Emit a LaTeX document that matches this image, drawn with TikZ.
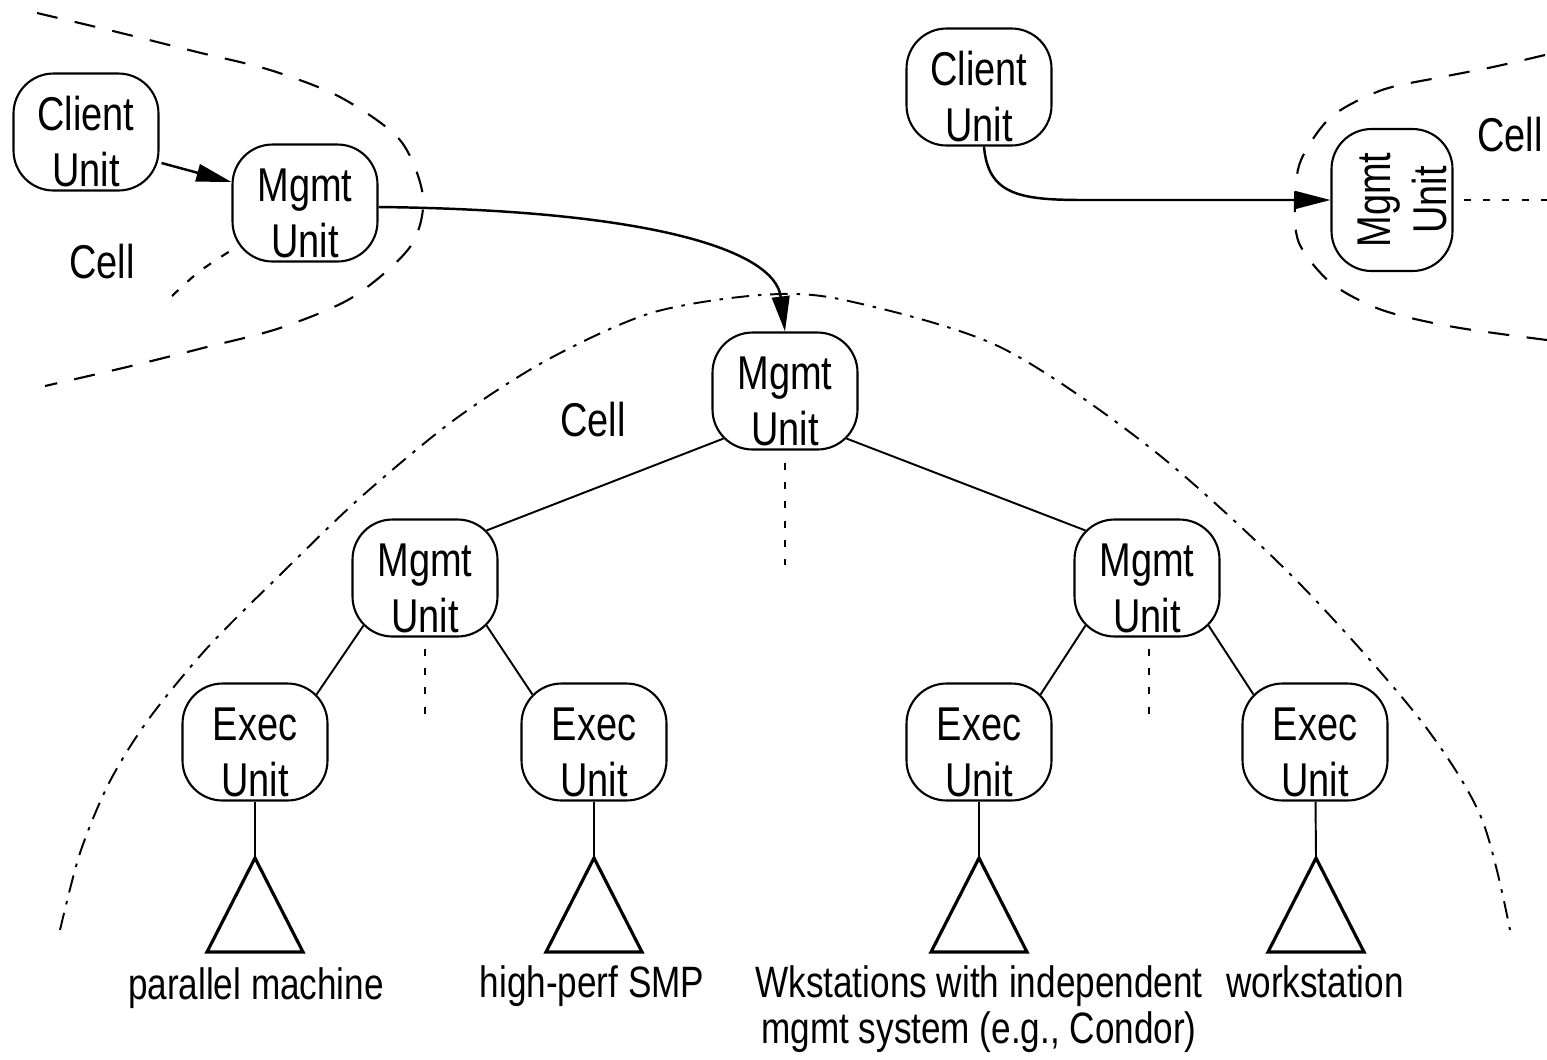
\documentclass[tikz,border=0pt]{standalone}
\usepackage{fontspec}
\setmainfont{Liberation Sans}[FakeStretch=0.8]
\usetikzlibrary{arrows.meta,calc}
\newcommand{\myupstrut}{\rule{0pt}{30pt}}
\begin{document}
\begin{tikzpicture}[x=0.02cm,y=-0.02cm,
  unit/.style={draw,line width=1.2pt,rounded corners=0.8cm,minimum width=2.9cm,minimum height=2.34cm,
    align=center,inner sep=0pt,font=\fontsize{27}{32}\selectfont},
  lbl/.style={font=\fontsize{25}{27}\selectfont,inner sep=0pt,anchor=base},
  celltxt/.style={font=\fontsize{27}{33}\selectfont,inner sep=0pt},
  link/.style={line width=1.1pt},
  arr/.style={line width=1.4pt,-{Triangle[length=20pt,width=10pt]}},
  dotv/.style={line width=1.3pt,dash pattern=on 4pt off 7pt},
  cellA/.style={line width=1.2pt,dash pattern=on 12pt off 10pt},
  cellS/.style={line width=1.2pt,dash pattern=on 5pt off 7pt},
  cellB/.style={line width=1.1pt,dash pattern=on 10pt off 5pt on 2pt off 5pt},
  tri/.style={line width=1.8pt,line join=miter}]
\useasboundingbox (0,0) rectangle (1547,1059);

% units
\node[unit] (cl1) at (86,132) {\myupstrut Client\\Unit};
\node[unit] (mg1) at (305,203) {\myupstrut Mgmt\\Unit};
\node[unit] (cl2) at (979,87) {\myupstrut Client\\Unit};
\node[unit,rotate=90,minimum width=2.84cm,minimum height=2.42cm] (mg2) at (1392,200) {\myupstrut Mgmt\\Unit};
\node[unit] (m0) at (785,391) {\myupstrut Mgmt\\Unit};
\node[unit] (m1) at (425,578) {\myupstrut Mgmt\\Unit};
\node[unit] (m2) at (1147,578) {\myupstrut Mgmt\\Unit};
\node[unit] (e1) at (255,742) {\myupstrut Exec\\Unit};
\node[unit] (e2) at (594,742) {\myupstrut Exec\\Unit};
\node[unit] (e3) at (979,742) {\myupstrut Exec\\Unit};
\node[unit] (e4) at (1315,742) {\myupstrut Exec\\Unit};

% cell labels
\node[celltxt] (c1) at (102,262) {Cell};
\node[celltxt] (c2) at (593,420) {Cell};
\node[celltxt] (c3) at (1510,135) {Cell};

% cell boundaries
\draw[cellA] plot[smooth] coordinates {(37,13) (117,32) (197,52) (270,70) (340,97) (400,140) (423,197) (410,247) (353,297) (280,328) (203,348) (127,367) (45,386)};
\draw[cellS] plot[smooth] coordinates {(172,296) (200,271) (238,246)};
\draw[cellA] plot[smooth] coordinates {(1545,55) (1493,67) (1442,77) (1382,90) (1331,117) (1301,160) (1295,200) (1299,243) (1331,283) (1382,310) (1454,327) (1547,340)};
\draw[cellB] plot[smooth] coordinates {(60,930) (80,853) (109,783) (148,720) (208,647) (285,570) (361,497) (454,420) (547,360) (651,313) (761,295) (844,300) (1000,347) (1153,450) (1296,580) (1418,717) (1481,817) (1510,930)};

% arrows
\draw[arr] ($(cl1.east)+(2,31)$) -- ($(mg1.west)+(0,-21)$);
\draw[arr] ($(mg1.east)+(0,4)$) .. controls (650,210) and (775,250) .. (m0.north);
\draw[arr] ($(cl2.south)+(5,0)$) .. controls (988,195) and (1020,200) .. (1084,200) -- (mg2.north);

% tree links
\draw[link] ($(m0.south west)+(12,-12)$) -- ($(m1.north east)+(-12,12)$);
\draw[link] ($(m0.south east)+(-12,-12)$) -- ($(m2.north west)+(12,12)$);
\draw[link] ($(m1.south west)+(12,-12)$) -- ($(e1.north east)+(-12,12)$);
\draw[link] ($(m1.south east)+(-12,-12)$) -- ($(e2.north west)+(12,12)$);
\draw[link] ($(m2.south west)+(12,-12)$) -- ($(e3.north east)+(-12,12)$);
\draw[link] ($(m2.south east)+(-12,-12)$) -- ($(e4.north west)+(12,12)$);

% dotted continuations
\coordinate (d0) at (785,565);
\coordinate (d1) at (425,715);
\coordinate (d2) at (1149,715);
\coordinate (d3) at (1547,200);
\draw[dotv] ($(m0.south)+(0,12)$) -- (d0);
\draw[dotv] ($(m1.south)+(0,11)$) -- (d1);
\draw[dotv] ($(m2.south)+(2,11)$) -- (d2);
\draw[dotv] ($(mg2.south)+(10,0)$) -- (d3);

% resources
\coordinate (t1) at (255,858);
\coordinate (t2) at (594,858);
\coordinate (t3) at (979,858);
\coordinate (t4) at (1316,858);
\foreach \t in {t1,t2,t3,t4} {
  \draw[tri] (\t) -- ++(-48,94) -- ++(96,0) -- cycle;
}
\draw[link] (e1) -- (t1);
\draw[link] (e2) -- (t2);
\draw[link] (e3) -- (t3);
\draw[link] (e4) -- (t4);

% labels
\node[lbl] (l1) at (256,999) {parallel machine};
\node[lbl] (l2) at (592,997) {high-perf SMP};
\node[lbl] (l3) at (979,997) {Wkstations with independent};
\node[lbl] (l3b) at (979,1043) {mgmt system (e.g., Condor)};
\node[lbl] (l4) at (1315,997) {workstation};
\end{tikzpicture}
\end{document}
